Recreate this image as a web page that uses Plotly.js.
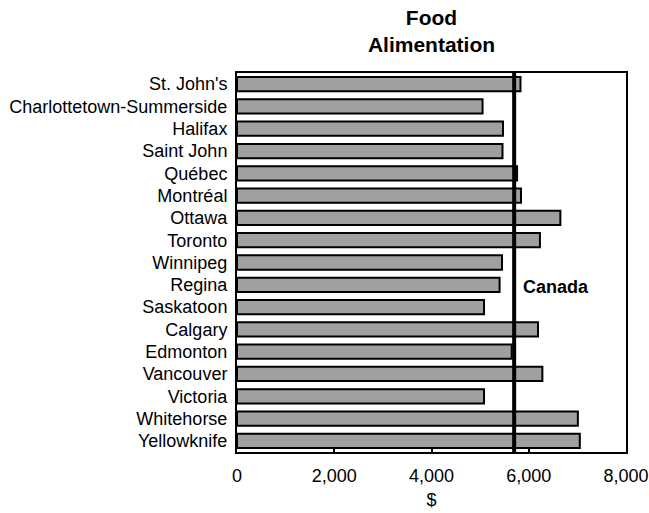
<!DOCTYPE html>
<html>
<head>
<meta charset="utf-8">
<script src="https://cdn.plot.ly/plotly-3.0.1.min.js"></script>
<style>html,body{margin:0;padding:0;background:#fff;}#chart{width:649px;height:513px;}</style>
</head>
<body>
<div id="chart"></div>
<script>
const cities = ["St. John's","Charlottetown-Summerside","Halifax","Saint John","Québec","Montréal","Ottawa","Toronto","Winnipeg","Regina","Saskatoon","Calgary","Edmonton","Vancouver","Victoria","Whitehorse","Yellowknife"];
const foodSpending = [5830,5050,5470,5460,5760,5840,6650,6230,5450,5400,5080,6190,5650,6280,5080,7010,7050];
const canadaAverage = 5700;
const canadaLabel = "Canada";
const xTickValues = [0,2000,4000,6000,8000];
const xTickLabels = ["0","2,000","4,000","6,000","8,000"];

const font = "Liberation Sans, Arial, sans-serif";

const trace = {
  type: 'bar',
  orientation: 'h',
  y: cities,
  x: foodSpending,
  marker: {color: '#a0a0a0', line: {color: '#000', width: 2}},
  hoverinfo: 'x+y'
};

const layout = {
  width: 649, height: 513,
  margin: {l: 237, r: 23, t: 73, b: 61},
  paper_bgcolor: '#fff', plot_bgcolor: '#fff',
  showlegend: false,
  bargap: 0.36,
  font: {family: font, size: 18, color: '#000'},
  title: {
    text: '<b>Food<br>Alimentation</b>',
    font: {family: font, size: 21, color: '#000'},
    xref: 'paper', x: 0.5, xanchor: 'center',
    yref: 'container', y: 0.951, yanchor: 'middle'
  },
  xaxis: {
    range: [0, 8000],
    tickvals: xTickValues, ticktext: xTickLabels,
    ticks: 'inside', ticklen: 5, tickwidth: 2, tickcolor: '#000',
    ticklabelstandoff: 6,
    showgrid: false, zeroline: false,
    showline: true, linecolor: '#000', linewidth: 2, mirror: true,
    tickfont: {family: font, size: 18},
    title: {text: '$', font: {family: font, size: 18}, standoff: 9}
  },
  yaxis: {
    autorange: 'reversed',
    type: 'category',
    showgrid: false, zeroline: false,
    showline: true, linecolor: '#000', linewidth: 2, mirror: true,
    ticks: '', ticklen: 0,
    ticklabelstandoff: 4,
    tickfont: {family: font, size: 18}
  },
  shapes: [{
    type: 'line', xref: 'x', yref: 'paper',
    x0: canadaAverage, x1: canadaAverage, y0: 0, y1: 1,
    line: {color: '#000', width: 4}
  }],
  annotations: [{
    text: '<b>' + canadaLabel + '</b>',
    xref: 'x', yref: 'y',
    x: canadaAverage, y: cities[9],
    xanchor: 'left', xshift: 7, yshift: -2,
    showarrow: false,
    font: {family: font, size: 18, color: '#000'}
  }]
};

Plotly.newPlot('chart', [trace], layout, {displayModeBar: false, staticPlot: true});
</script>
</body>
</html>
